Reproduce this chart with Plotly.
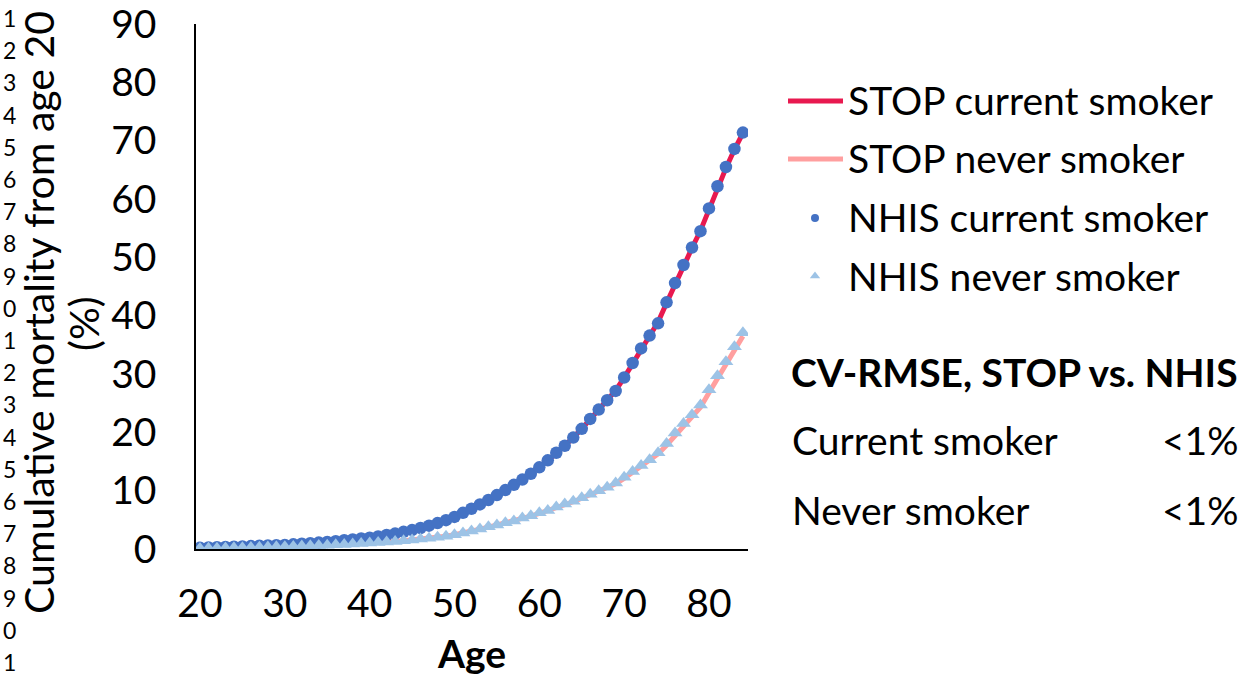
import plotly.graph_objects as go

# Ages 20..84 (one point per year)
ages = list(range(20, 85))

# NHIS observed cumulative mortality from age 20 (%)
nhis_current = [
    0.2, 0.25, 0.3, 0.35, 0.4, 0.45, 0.5, 0.55, 0.6, 0.65,
    0.7, 0.8, 0.9, 1.0, 1.1, 1.2, 1.35, 1.5, 1.65, 1.8,
    1.95, 2.15, 2.4, 2.65, 2.95, 3.25, 3.6, 4.0, 4.45, 4.95,
    5.5, 6.2, 6.9, 7.65, 8.4, 9.25, 10.1, 11.0, 11.9, 12.9,
    14.0, 15.2, 16.5, 17.7, 19.1, 20.6, 22.3, 23.9, 25.5, 27.1,
    29.4, 31.9, 34.4, 36.6, 38.7, 42.3, 45.6, 48.7, 51.7, 54.5,
    58.4, 62.2, 65.5, 68.6, 71.4,
]
nhis_never = [
    0.1, 0.12, 0.15, 0.18, 0.2, 0.23, 0.26, 0.3, 0.33, 0.37,
    0.4, 0.45, 0.5, 0.55, 0.6, 0.66, 0.72, 0.79, 0.86, 0.94,
    1.02, 1.1, 1.2, 1.3, 1.42, 1.55, 1.7, 1.85, 2.0, 2.2,
    2.45, 2.75, 3.1, 3.45, 3.8, 4.1, 4.5, 4.8, 5.3, 5.7,
    6.2, 6.6, 7.2, 7.7, 8.2, 8.8, 9.4, 10.0, 10.6, 11.3,
    12.3, 13.3, 14.3, 15.3, 16.5, 18.1, 19.9, 21.5, 23.0, 24.7,
    27.3, 29.7, 32.1, 34.7, 37.1,
]

# STOP model predictions (%)
stop_current = [
    0.2, 0.25, 0.3, 0.35, 0.4, 0.45, 0.5, 0.55, 0.6, 0.66,
    0.72, 0.8, 0.9, 1.0, 1.1, 1.22, 1.35, 1.5, 1.65, 1.82,
    2.0, 2.2, 2.42, 2.68, 2.95, 3.25, 3.6, 4.0, 4.45, 4.95,
    5.5, 6.15, 6.85, 7.6, 8.4, 9.25, 10.1, 11.0, 11.95, 12.95,
    14.0, 15.2, 16.4, 17.7, 19.1, 20.6, 22.2, 23.9, 25.5, 27.2,
    29.4, 31.8, 34.2, 36.5, 38.9, 42.2, 45.5, 48.6, 51.6, 54.6,
    58.3, 62.0, 65.3, 68.5, 71.3,
]
stop_never = [
    0.1, 0.12, 0.15, 0.18, 0.2, 0.23, 0.26, 0.3, 0.33, 0.37,
    0.4, 0.45, 0.5, 0.55, 0.6, 0.66, 0.72, 0.79, 0.86, 0.94,
    1.02, 1.1, 1.2, 1.3, 1.42, 1.55, 1.7, 1.85, 2.0, 2.2,
    2.45, 2.72, 3.05, 3.4, 3.75, 4.1, 4.45, 4.8, 5.25, 5.65,
    6.1, 6.55, 7.1, 7.6, 8.1, 8.7, 9.3, 9.9, 10.5, 11.2,
    12.1, 13.1, 14.1, 15.1, 16.3, 17.8, 19.5, 21.1, 22.6, 24.3,
    26.8, 29.2, 31.6, 34.1, 36.5,
]

x_ticks = [20, 30, 40, 50, 60, 70, 80]
y_ticks = [0, 10, 20, 30, 40, 50, 60, 70, 80, 90]

legend_labels = ["STOP current smoker", "STOP never smoker",
                 "NHIS current smoker", "NHIS never smoker"]
rmse_rows = [("Current smoker", "<1%"), ("Never smoker", "<1%")]
line_numbers = [str((i + 1) % 10) for i in range(21)]

C_STOP_CUR = "#E8194F"
C_STOP_NEV = "#FF9F9F"
C_NHIS_CUR = "#4472C4"
C_NHIS_NEV = "#9DC3E6"

FONT = "Lato"
FS = 39
W, H = 1242, 675
# plot area in pixels
PL, PR, PT, PB = 196, 748, 24, 549

fig = go.Figure()

fig.add_trace(go.Scatter(x=ages, y=stop_current, mode="lines",
                         line=dict(color=C_STOP_CUR, width=5), showlegend=False))
fig.add_trace(go.Scatter(x=ages, y=stop_never, mode="lines",
                         line=dict(color=C_STOP_NEV, width=5), showlegend=False))
fig.add_trace(go.Scatter(x=ages, y=nhis_current, mode="markers",
                         marker=dict(color=C_NHIS_CUR, size=12.5, symbol="circle"),
                         showlegend=False))
fig.add_trace(go.Scatter(x=ages, y=nhis_never, mode="markers",
                         marker=dict(color=C_NHIS_NEV, size=13, symbol="triangle-up"),
                         showlegend=False))

# full-figure axes in pixel units for the hand-built legend glyphs
fig.add_trace(go.Scatter(x=[815], y=[218], mode="markers", xaxis="x2", yaxis="y2",
                         marker=dict(color=C_NHIS_CUR, size=8, symbol="circle"),
                         showlegend=False, hoverinfo="skip"))
fig.add_trace(go.Scatter(x=[815], y=[276], mode="markers", xaxis="x2", yaxis="y2",
                         marker=dict(color=C_NHIS_NEV, size=9, symbol="triangle-up"),
                         showlegend=False, hoverinfo="skip"))

shapes = []
for yy, col in [(101, C_STOP_CUR), (159, C_STOP_NEV)]:
    shapes.append(dict(type="line", xref="x2", yref="y2", x0=788, x1=843, y0=yy, y1=yy,
                       line=dict(color=col, width=5), layer="above"))

txt = dict(family=FONT, size=FS, color="black")
annotations = []
for lbl, yy in zip(legend_labels, [100, 158, 217, 276]):
    annotations.append(dict(xref="x2", yref="y2", x=846, y=yy, text=lbl, showarrow=False,
                            xanchor="left", yanchor="middle", font=txt))

annotations.append(dict(xref="x2", yref="y2", x=789, y=372,
                        text="<b>CV-RMSE, STOP vs. NHIS</b>", showarrow=False,
                        xanchor="left", yanchor="middle", font=txt))
for (name, val), yy in zip(rmse_rows, [440, 510]):
    annotations.append(dict(xref="x2", yref="y2", x=790, y=yy, text=name, showarrow=False,
                            xanchor="left", yanchor="middle", font=txt))
    annotations.append(dict(xref="x2", yref="y2", x=1241, y=yy, text=val, showarrow=False,
                            xanchor="right", yanchor="middle", font=txt))

# y axis title (two rotated lines)
ytitle_font = dict(family=FONT, size=41, color="black")
annotations.append(dict(xref="x2", yref="y2", x=38, y=313,
                        text="Cumulative mortality from age 20",
                        textangle=-90, showarrow=False,
                        xanchor="center", yanchor="middle", font=ytitle_font))
annotations.append(dict(xref="x2", yref="y2", x=83, y=324, text="(%)",
                        textangle=-90, showarrow=False,
                        xanchor="center", yanchor="middle", font=ytitle_font))
# x axis title
annotations.append(dict(xref="x2", yref="y2", x=471, y=653, text="<b>Age</b>",
                        showarrow=False, xanchor="center", yanchor="middle", font=txt))

# margin line numbers
for i, n in enumerate(line_numbers):
    annotations.append(dict(xref="x2", yref="y2", x=0.5, y=18 + 32.2 * i, text=n,
                            showarrow=False, xanchor="left", yanchor="middle",
                            font=dict(family=FONT, size=23, color="black")))

fig.update_layout(
    template="none",
    width=W, height=H, autosize=False,
    margin=dict(l=0, r=0, t=0, b=0, pad=0, autoexpand=False),
    paper_bgcolor="white", plot_bgcolor="rgba(0,0,0,0)",
    showlegend=False,
    xaxis=dict(domain=[PL / W, PR / W], range=[19.53, 84.6], automargin=False,
               tickvals=x_ticks, ticktext=[str(v) for v in x_ticks],
               showgrid=False, zeroline=False, showline=True,
               linecolor="black", linewidth=2, ticks="",
               ticklabelstandoff=19, ticklabeloverflow="allow", tickfont=txt),
    yaxis=dict(domain=[1 - PB / H, 1 - PT / H], range=[0, 90.02], automargin=False,
               tickvals=y_ticks, ticktext=[str(v) for v in y_ticks],
               showgrid=False, zeroline=False, showline=True,
               linecolor="black", linewidth=1.5, ticks="",
               ticklabelstandoff=30, ticklabeloverflow="allow", tickfont=txt),
    xaxis2=dict(domain=[0, 1], range=[0, W], visible=False, anchor="y2",
                automargin=False),
    yaxis2=dict(domain=[0, 1], range=[H, 0], visible=False, anchor="x2",
                automargin=False),
    shapes=shapes,
    annotations=annotations,
)

fig.write_html("out.html")
